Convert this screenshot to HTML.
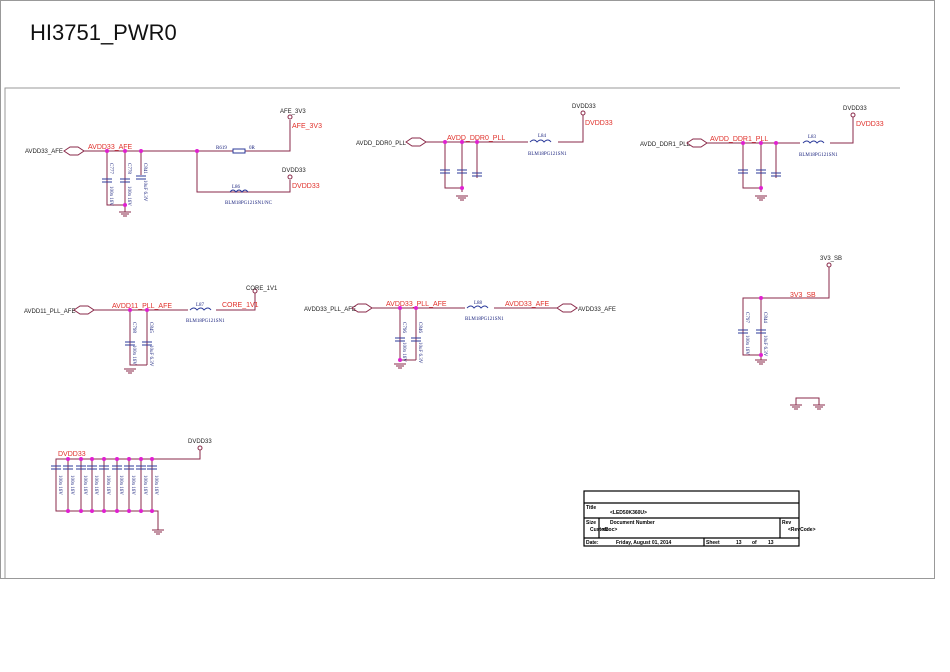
<!DOCTYPE html>
<html><head><meta charset="utf-8"><style>
html,body{margin:0;padding:0;background:#fff;}
svg{display:block;font-family:"Liberation Sans",sans-serif;}
.w{stroke:#8a2a4a;stroke-width:1;fill:none}
.c{stroke:#2b3a9a;stroke-width:1;fill:none}
.nl{fill:#e0302a;font-size:7px}
.bl{fill:#222;font-size:6px}
.cl{fill:#1a237e;font-size:5px;font-family:"Liberation Serif",serif}
.j{fill:#e020d0}
</style></head><body>
<svg width="950" height="672" viewBox="0 0 950 672">
<rect x="0.5" y="0.5" width="934" height="578" fill="none" stroke="#999"/>
<path d="M5 578 V88 H900" stroke="#999" fill="none"/>
<text x="30" y="40" font-size="22" fill="#111">HI3751_PWR0</text>

<!-- Block 1 AVDD33_AFE -->
<text x="25" y="153" class="bl">AVDD33_AFE</text>
<path d="M64 151 l6 -4 h8 l6 4 l-6 4 h-8z" class="w"/>
<path class="w" d="M84 151 H290 V120 M107 151 V205 H127 M125 151 V205 M141 151 V175 M197 151 V192 H290 V180"/>
<text x="88" y="149" class="nl">AVDD33_AFE</text>
<rect x="233" y="149" width="12" height="4" fill="#fff" stroke="#2b3a9a"/>
<text x="216" y="149" class="cl">R619</text><text x="249" y="149" class="cl">0R</text>
<path class="c" d="M230 192 q3 -4 6 0 q3 -4 6 0 q3 -4 6 0"/>
<text x="232" y="188" class="cl">L86</text>
<text x="225" y="204" class="cl">BLM18PG121SN1/NC</text>
<circle cx="290" cy="117" r="2" class="w"/><text x="280" y="113" class="bl">AFE_3V3</text><text x="292" y="128" class="nl">AFE_3V3</text>
<circle cx="290" cy="177" r="2" class="w"/><text x="282" y="172" class="bl">DVDD33</text><text x="292" y="188" class="nl">DVDD33</text>
<path class="c" d="M102 179 h10 M102 182 h10 M120 179 h10 M120 182 h10 M136 176 h10 M136 179 h10"/>
<path class="w" d="M125 205 V212 M119 212 h12 M121 214 h8 M123 216 h4"/>
<g class="j"><circle cx="107" cy="151" r="2"/><circle cx="125" cy="151" r="2"/><circle cx="141" cy="151" r="2"/><circle cx="197" cy="151" r="2"/><circle cx="125" cy="205" r="2"/></g>

<!-- Block 2 DDR0 -->
<text x="356" y="145" class="bl">AVDD_DDR0_PLL</text>
<path d="M406 142 l6 -4 h8 l6 4 l-6 4 h-8z" class="w"/>
<path class="w" d="M426 142 H528 M558 142 H583 V115 M445 142 V188 H462 M462 142 V192 M477 142 V178"/>
<path class="c" d="M530 142 q4 -4 7 0 q4 -4 7 0 q4 -4 7 0"/>
<text x="538" y="137" class="cl">L84</text><text x="528" y="155" class="cl">BLM18PG121SN1</text>
<text x="447" y="140" class="nl">AVDD_DDR0_PLL</text>
<circle cx="583" cy="113" r="2" class="w"/><text x="572" y="108" class="bl">DVDD33</text><text x="585" y="125" class="nl">DVDD33</text>
<path class="c" d="M440 170 h10 M440 173 h10 M457 170 h10 M457 173 h10 M472 173 h10 M472 176 h10"/>
<path class="w" d="M456 196 h12 M458 198 h8 M460 200 h4"/>
<g class="j"><circle cx="445" cy="142" r="2"/><circle cx="462" cy="142" r="2"/><circle cx="477" cy="142" r="2"/><circle cx="462" cy="188" r="2"/></g>

<!-- Block 3 DDR1 -->
<text x="640" y="146" class="bl">AVDD_DDR1_PLL</text>
<path d="M687 143 l6 -4 h8 l6 4 l-6 4 h-8z" class="w"/>
<path class="w" d="M707 143 H800 M830 143 H853 V117 M743 143 V188 H761 M761 143 V192 M776 143 V178"/>
<path class="c" d="M803 143 q4 -4 7 0 q4 -4 7 0 q4 -4 7 0"/>
<text x="808" y="138" class="cl">L83</text><text x="799" y="156" class="cl">BLM18PG121SN1</text>
<text x="710" y="141" class="nl">AVDD_DDR1_PLL</text>
<circle cx="853" cy="115" r="2" class="w"/><text x="843" y="110" class="bl">DVDD33</text><text x="856" y="126" class="nl">DVDD33</text>
<path class="c" d="M738 170 h10 M738 173 h10 M756 170 h10 M756 173 h10 M771 173 h10 M771 176 h10"/>
<path class="w" d="M755 196 h12 M757 198 h8 M759 200 h4"/>
<g class="j"><circle cx="743" cy="143" r="2"/><circle cx="761" cy="143" r="2"/><circle cx="776" cy="143" r="2"/><circle cx="761" cy="188" r="2"/></g>

<!-- Block 4 AVDD11 -->
<text x="24" y="313" class="bl">AVDD11_PLL_AFE</text>
<path d="M74 310 l6 -4 h8 l6 4 l-6 4 h-8z" class="w"/>
<path class="w" d="M94 310 H188 M216 310 H255 V293 M130 310 V365 H147 M147 310 V365"/>
<path class="c" d="M190 310 q4 -4 7 0 q4 -4 7 0 q4 -4 7 0"/>
<text x="196" y="306" class="cl">L87</text><text x="186" y="322" class="cl">BLM18PG121SN1</text>
<text x="112" y="308" class="nl">AVDD11_PLL_AFE</text>
<circle cx="255" cy="291" r="2" class="w"/><text x="246" y="290" class="bl">CORE_1V1</text><text x="222" y="307" class="nl">CORE_1V1</text>
<path class="c" d="M125 342 h10 M125 345 h10 M142 342 h10 M142 345 h10"/>
<path class="w" d="M124 369 h12 M126 371 h8 M128 373 h4"/>
<g class="j"><circle cx="130" cy="310" r="2"/><circle cx="147" cy="310" r="2"/></g>

<!-- Block 5 AVDD33_PLL -->
<text x="304" y="311" class="bl">AVDD33_PLL_AFE</text>
<path d="M352 308 l6 -4 h8 l6 4 l-6 4 h-8z" class="w"/>
<path class="w" d="M372 308 H465 M494 308 H557 M400 308 V360 H416 M416 308 V360"/>
<path class="c" d="M467 308 q4 -4 7 0 q4 -4 7 0 q4 -4 7 0"/>
<text x="474" y="304" class="cl">L88</text><text x="465" y="320" class="cl">BLM18PG121SN1</text>
<text x="386" y="306" class="nl">AVDD33_PLL_AFE</text>
<text x="505" y="306" class="nl">AVDD33_AFE</text>
<path d="M557 308 l6 -4 h8 l6 4 l-6 4 h-8z" class="w"/>
<text x="578" y="311" class="bl">AVDD33_AFE</text>
<path class="c" d="M395 338 h10 M395 341 h10 M411 338 h10 M411 341 h10"/>
<path class="w" d="M394 364 h12 M396 366 h8 M398 368 h4"/>
<g class="j"><circle cx="400" cy="308" r="2"/><circle cx="416" cy="308" r="2"/><circle cx="400" cy="360" r="2"/></g>

<!-- Block 6 3V3_SB -->
<text x="820" y="260" class="bl">3V3_SB</text>
<circle cx="829" cy="265" r="2" class="w"/>
<path class="w" d="M829 267 V298 H743 V355 H761 V298"/>
<text x="790" y="297" class="nl">3V3_SB</text>
<path class="c" d="M738 330 h10 M738 333 h10 M756 330 h10 M756 333 h10"/>
<path class="w" d="M755 360 h12 M757 362 h8 M759 364 h4 M761 355 V360"/>
<g class="j"><circle cx="761" cy="298" r="2"/><circle cx="761" cy="355" r="2"/></g>
<path class="w" d="M790 405 h12 M792 407 h8 M794 409 h4 M796 405 V398 H819 V405 M813 405 h12 M815 407 h8 M817 409 h4"/>

<!-- Block 7 decoupling array -->
<text x="188" y="443" class="bl">DVDD33</text>
<circle cx="200" cy="448" r="2" class="w"/>
<path class="w" d="M200 450 V459 H56 V511 H158 V530"/>
<text x="58" y="456" class="nl">DVDD33</text>
<g class="w">
<path d="M68 459 V511 M81 459 V511 M92 459 V511 M104 459 V511 M117 459 V511 M129 459 V511 M141 459 V511 M152 459 V511"/>
</g>
<path class="c" d="M51 466 h10 M51 469 h10 M63 466 h10 M63 469 h10 M76 466 h10 M76 469 h10 M87 466 h10 M87 469 h10 M99 466 h10 M99 469 h10 M112 466 h10 M112 469 h10 M124 466 h10 M124 469 h10 M136 466 h10 M136 469 h10 M147 466 h10 M147 469 h10"/>
<g class="cl">
<text transform="translate(59,475) rotate(90)">100n 16V</text><text transform="translate(71,475) rotate(90)">100n 16V</text><text transform="translate(84,475) rotate(90)">100n 16V</text><text transform="translate(95,475) rotate(90)">100n 16V</text><text transform="translate(107,475) rotate(90)">100n 16V</text><text transform="translate(120,475) rotate(90)">100n 16V</text><text transform="translate(132,475) rotate(90)">100n 16V</text><text transform="translate(144,475) rotate(90)">100n 16V</text><text transform="translate(155,475) rotate(90)">100n 16V</text>
</g>
<g class="j">
<circle cx="68" cy="459" r="2"/><circle cx="81" cy="459" r="2"/><circle cx="92" cy="459" r="2"/><circle cx="104" cy="459" r="2"/><circle cx="117" cy="459" r="2"/><circle cx="129" cy="459" r="2"/><circle cx="141" cy="459" r="2"/><circle cx="152" cy="459" r="2"/>
<circle cx="68" cy="511" r="2"/><circle cx="81" cy="511" r="2"/><circle cx="92" cy="511" r="2"/><circle cx="104" cy="511" r="2"/><circle cx="117" cy="511" r="2"/><circle cx="129" cy="511" r="2"/><circle cx="141" cy="511" r="2"/><circle cx="152" cy="511" r="2"/>
</g>
<path class="w" d="M152 530 h12 M154 532 h8 M156 534 h4"/>

<!-- small caps labels block1 etc -->
<g class="cl">
<text transform="translate(110,163) rotate(90)">C777</text><text transform="translate(110,186) rotate(90)">100n 16V</text>
<text transform="translate(128,163) rotate(90)">C778</text><text transform="translate(128,186) rotate(90)">100n 16V</text>
<text transform="translate(144,163) rotate(90)">C841</text><text transform="translate(144,180) rotate(90)">10uF 6.3V</text>
<text transform="translate(133,322) rotate(90)">C798</text><text transform="translate(133,345) rotate(90)">100n 16V</text>
<text transform="translate(150,322) rotate(90)">C845</text><text transform="translate(150,345) rotate(90)">10uF 6.3V</text>
<text transform="translate(403,322) rotate(90)">C796</text><text transform="translate(403,342) rotate(90)">100n 16V</text>
<text transform="translate(419,322) rotate(90)">C846</text><text transform="translate(419,342) rotate(90)">10uF 6.3V</text>
<text transform="translate(746,312) rotate(90)">C797</text><text transform="translate(746,335) rotate(90)">100n 16V</text>
<text transform="translate(764,312) rotate(90)">C844</text><text transform="translate(764,335) rotate(90)">10uF 6.3V</text>
</g>

<!-- title block -->
<g stroke="#000" fill="none" stroke-width="1.2">
<rect x="584" y="491" width="215" height="55"/>
<path d="M584 503 H799 M584 518 H799 M584 538 H799 M599 518 V538 M780 518 V538 M704 538 V546"/>
</g>
<g font-size="5" fill="#000" font-weight="bold">
<text x="586" y="509">Title</text><text x="610" y="514">&lt;LED50K360U&gt;</text>
<text x="586" y="524">Size</text><text x="610" y="524">Document Number</text>
<text x="590" y="531">Custom</text><text x="602" y="531">&lt;Doc&gt;</text>
<text x="782" y="524">Rev</text><text x="788" y="531">&lt;RevCode&gt;</text>
<text x="586" y="544">Date:</text><text x="616" y="544">Friday, August 01, 2014</text>
<text x="706" y="544">Sheet</text><text x="736" y="544">13</text><text x="752" y="544">of</text><text x="768" y="544">13</text>
</g>
</svg>
</body></html>
